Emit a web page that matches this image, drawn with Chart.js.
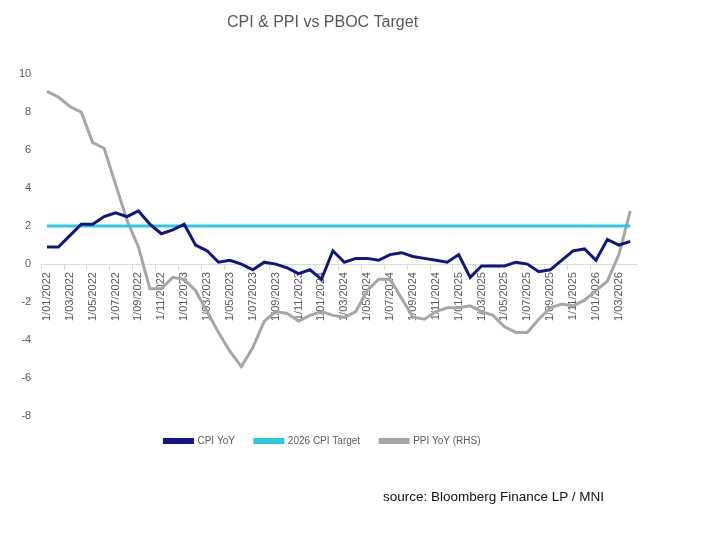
<!DOCTYPE html>
<html>
<head>
<meta charset="utf-8">
<script src="https://cdn.jsdelivr.net/npm/chart.js@4"></script>
<style>
  body { margin: 0; background: #fff; }
  #wrap { position: relative; width: 722px; height: 553px; }
  #source {
    position: absolute; left: 383px; top: 489px;
    font-family: "Liberation Sans", Arial, sans-serif; font-size: 13.5px; color: #111;
  }
</style>
</head>
<body>
<div id="wrap">
  <canvas id="graphique" width="722" height="553"></canvas>
  <div id="source">source: Bloomberg Finance LP / MNI</div>
</div>
<script>
// mois (jan 2022 -> avr 2026)
const mois = [
  "1/01/2022", "1/02/2022", "1/03/2022", "1/04/2022", "1/05/2022", "1/06/2022",
  "1/07/2022", "1/08/2022", "1/09/2022", "1/10/2022", "1/11/2022", "1/12/2022",
  "1/01/2023", "1/02/2023", "1/03/2023", "1/04/2023", "1/05/2023", "1/06/2023",
  "1/07/2023", "1/08/2023", "1/09/2023", "1/10/2023", "1/11/2023", "1/12/2023",
  "1/01/2024", "1/02/2024", "1/03/2024", "1/04/2024", "1/05/2024", "1/06/2024",
  "1/07/2024", "1/08/2024", "1/09/2024", "1/10/2024", "1/11/2024", "1/12/2024",
  "1/01/2025", "1/02/2025", "1/03/2025", "1/04/2025", "1/05/2025", "1/06/2025",
  "1/07/2025", "1/08/2025", "1/09/2025", "1/10/2025", "1/11/2025", "1/12/2025",
  "1/01/2026", "1/02/2026", "1/03/2026", "1/04/2026"
];

const cpiYoY = [
  0.9, 0.9, 1.5, 2.1, 2.1, 2.5, 2.7, 2.5, 2.8, 2.1, 1.6, 1.8,
  2.1, 1.0, 0.7, 0.1, 0.2, 0.0, -0.3, 0.1, 0.0, -0.2, -0.5, -0.3,
  -0.8, 0.7, 0.1, 0.3, 0.3, 0.2, 0.5, 0.6, 0.4, 0.3, 0.2, 0.1,
  0.5, -0.7, -0.1, -0.1, -0.1, 0.1, 0.0, -0.4, -0.3, 0.2, 0.7, 0.8,
  0.2, 1.3, 1.0, 1.2
];

const ppiYoY = [
  9.1, 8.8, 8.3, 8.0, 6.4, 6.1, 4.2, 2.3, 0.9, -1.3, -1.3, -0.7,
  -0.8, -1.4, -2.5, -3.6, -4.6, -5.4, -4.4, -3.0, -2.5, -2.6, -3.0, -2.7,
  -2.5, -2.7, -2.8, -2.5, -1.4, -0.8, -0.8, -1.8, -2.8, -2.9, -2.5, -2.3,
  -2.3, -2.2, -2.5, -2.7, -3.3, -3.6, -3.6, -2.9, -2.3, -2.1, -2.2, -1.9,
  -1.4, -0.9, 0.5, 2.8
];

const cibleCPI = 2;

const police = "'Liberation Sans', Arial, sans-serif";
const gris = "#595959";

const data = {
  labels: mois,
  datasets: [
    {
      label: "CPI YoY",
      data: cpiYoY,
      borderColor: "#101487",
      backgroundColor: "#101487",
      borderWidth: 3,
      order: 1
    },
    {
      label: "2026 CPI Target",
      data: mois.map(() => cibleCPI),
      borderColor: "#2CC6E6",
      backgroundColor: "#2CC6E6",
      borderWidth: 3,
      order: 2
    },
    {
      label: "PPI YoY (RHS)",
      data: ppiYoY,
      borderColor: "#A6A6A6",
      backgroundColor: "#A6A6A6",
      borderWidth: 3,
      order: 3
    }
  ]
};

const config = {
  type: "line",
  data: data,
  options: {
    responsive: false,
    animation: false,
    elements: {
      point: { radius: 0 },
      line: { tension: 0 }
    },
    layout: {
      padding: { left: 9, right: 86, top: 0, bottom: 97 }
    },
    plugins: {
      title: {
        display: true,
        text: "CPI & PPI vs PBOC Target",
        color: gris,
        font: { family: police, size: 16, weight: "normal" },
        padding: { top: 13, bottom: 42 }
      },
      legend: {
        position: "bottom",
        labels: {
          boxWidth: 28,
          boxHeight: 3,
          padding: 20,
          color: gris,
          font: { family: police, size: 10 }
        }
      },
      tooltip: { enabled: false }
    },
    scales: {
      x: {
        position: { y: 0 },
        offset: true,
        // l'axe est au niveau du zéro, il ne doit pas prendre de place en bas
        afterFit: (scale) => { scale.height = 0; },
        border: { display: true, color: "#d9d9d9", width: 1 },
        grid: {
          offset: true,
          drawOnChartArea: false,
          drawTicks: true,
          tickLength: 5,
          color: (ctx) => (ctx.index % 2 === 0 ? "#d9d9d9" : "rgba(0,0,0,0)")
        },
        ticks: {
          autoSkip: false,
          minRotation: 90,
          maxRotation: 90,
          padding: 3,
          color: gris,
          font: { family: police, size: 11 },
          callback: (val, i) => (i % 2 === 0 ? mois[i] : "")
        }
      },
      y: {
        min: -8,
        max: 10,
        border: { display: false },
        grid: { display: false, drawTicks: false },
        ticks: {
          stepSize: 2,
          padding: 10,
          color: gris,
          font: { family: police, size: 11 }
        }
      }
    }
  }
};

const ctx = document.querySelector("#graphique").getContext("2d");
new Chart(ctx, config);
</script>
</body>
</html>
